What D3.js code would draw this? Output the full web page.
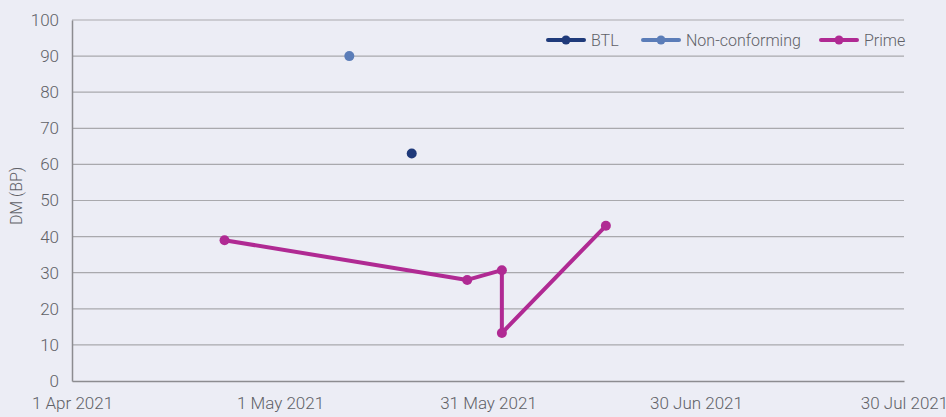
<!DOCTYPE html>
<html>
<head>
<meta charset="utf-8">
<script src="https://cdn.jsdelivr.net/npm/d3@7"></script>
<style>
  body { margin: 0; background: #ecedf5; }
  svg { display: block; }
  text { font-family: "Roboto", sans-serif; font-weight: 300; fill: #606167; }
</style>
</head>
<body>
<div id="chart"></div>
<script>
var parse = d3.timeParse('%Y-%m-%d');

var seriesNames = ['BTL', 'Non-conforming', 'Prime'];
var seriesColors = ['#1f3a7a', '#5b7db8', '#b02a93'];

var btlDates = ['2021-05-20'];
var btlValues = [63];

var nonConfDates = ['2021-05-11'];
var nonConfValues = [90];

var primeDates = ['2021-04-23', '2021-05-28', '2021-06-02', '2021-06-02', '2021-06-17'];
var primeValues = [39, 28, 30.7, 13.3, 43];

var xTickDates = ['2021-04-01', '2021-05-01', '2021-05-31', '2021-06-30', '2021-07-30'];
var yTicks = [0, 10, 20, 30, 40, 50, 60, 70, 80, 90, 100];

var width = 946, height = 417,
	margin = { top: 20, right: 42, bottom: 36, left: 72 };

var svg = d3.select('#chart').append('svg')
	.attr('width', width)
	.attr('height', height);

var x = d3.scaleTime()
	.domain([parse('2021-04-01'), parse('2021-07-30')])
	.range([margin.left, width - margin.right]);

var y = d3.scaleLinear()
	.domain([0, 100])
	.range([height - margin.bottom, margin.top]);

// gridlines
svg.append('g')
	.selectAll('line')
	.data(yTicks.slice(1))
	.enter()
	.append('line')
	.attr('x1', margin.left)
	.attr('x2', width - margin.right)
	.attr('y1', function(d) { return y(d); })
	.attr('y2', function(d) { return y(d); })
	.attr('stroke', '#a9a9ad')
	.attr('stroke-width', 1.2);

// y axis
var yAxis = svg.append('g')
	.attr('transform', 'translate(' + margin.left + ',0)')
	.call(d3.axisLeft(y).tickValues(yTicks).tickSize(0).tickPadding(13));
yAxis.select('.domain').attr('stroke', '#8c8c90').attr('stroke-width', 1.5);
yAxis.selectAll('text').style('font-size', '17px').attr('fill', '#606167');

// x axis
var xAxis = svg.append('g')
	.attr('transform', 'translate(0,' + (height - margin.bottom) + ')')
	.call(d3.axisBottom(x)
		.tickValues(xTickDates.map(parse))
		.tickSize(0)
		.tickPadding(16)
		.tickFormat(d3.timeFormat('%-d %b %Y')));
xAxis.select('.domain').attr('stroke', '#8c8c90').attr('stroke-width', 1.5);
xAxis.selectAll('text').style('font-size', '17px').attr('fill', '#606167');

// axis title
svg.append('text')
	.attr('transform', 'translate(22,196) rotate(-90)')
	.attr('text-anchor', 'middle')
	.style('font-size', '16px')
	.text('DM (BP)');

// prime line
var primeData = primeDates.map(function(d, i) { return { date: parse(d), value: primeValues[i] }; });
var line = d3.line()
	.x(function(d) { return x(d.date); })
	.y(function(d) { return y(d.value); });

svg.append('path')
	.datum(primeData)
	.attr('fill', 'none')
	.attr('stroke', seriesColors[2])
	.attr('stroke-width', 4)
	.attr('stroke-linejoin', 'round')
	.attr('d', line);

function drawPoints(dates, values, color) {
	svg.append('g')
		.selectAll('circle')
		.data(dates.map(function(d, i) { return { date: parse(d), value: values[i] }; }))
		.enter()
		.append('circle')
		.attr('cx', function(d) { return x(d.date); })
		.attr('cy', function(d) { return y(d.value); })
		.attr('r', 5)
		.attr('fill', color);
}

drawPoints(primeDates, primeValues, seriesColors[2]);
drawPoints(nonConfDates, nonConfValues, seriesColors[1]);
drawPoints(btlDates, btlValues, seriesColors[0]);

// legend
var legendX = [548, 643, 821];
var legend = svg.append('g')
	.selectAll('g')
	.data(seriesNames)
	.enter()
	.append('g')
	.attr('transform', function(d, i) { return 'translate(' + legendX[i] + ',40)'; });

legend.append('line')
	.attr('x1', 0).attr('x2', 36)
	.attr('stroke', function(d, i) { return seriesColors[i]; })
	.attr('stroke-width', 4)
	.attr('stroke-linecap', 'round');

legend.append('circle')
	.attr('cx', 18)
	.attr('r', 4.5)
	.attr('fill', function(d, i) { return seriesColors[i]; });

legend.append('text')
	.attr('x', 43)
	.attr('dy', '0.35em')
	.style('font-size', '16px')
	.text(function(d) { return d; });
</script>
</body>
</html>
